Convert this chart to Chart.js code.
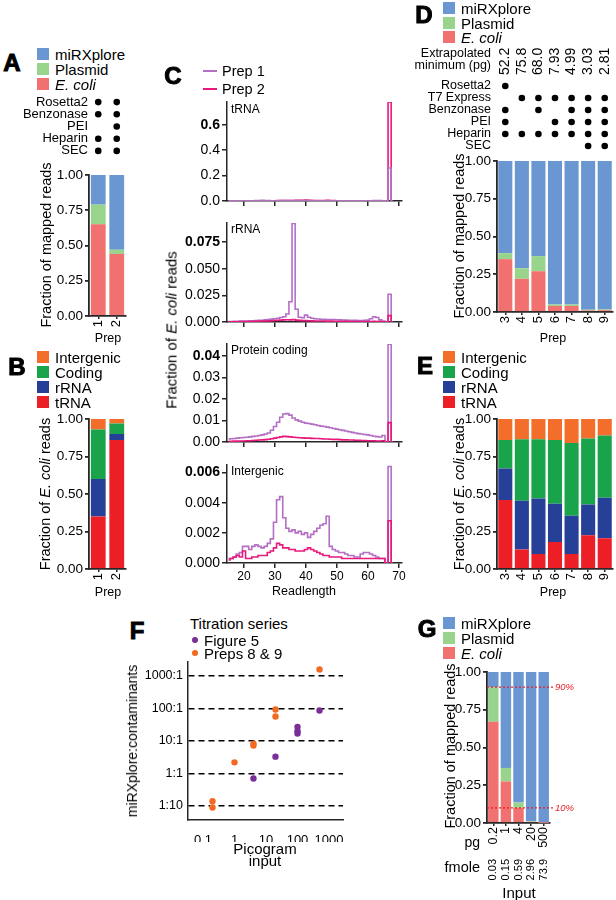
<!DOCTYPE html>
<html>
<head>
<meta charset="utf-8">
<script src="https://cdn.jsdelivr.net/npm/chart.js@4.4.1/dist/chart.umd.min.js"></script>
<style>
body { margin: 0; background: #fff; }
#fig { position: relative; width: 616px; height: 900px; overflow: hidden; background: #fff;
       font-family: 'Liberation Sans', Arial, sans-serif; color: #000; }
#fig canvas { position: absolute; }
.t { position: absolute; white-space: nowrap; line-height: 1; z-index: 2; }
.sq { position: absolute; width: 12px; height: 12px; z-index: 2; }
.ln { position: absolute; width: 14px; height: 2.5px; z-index: 2; }
.dot { position: absolute; width: 6px; height: 6px; border-radius: 50%; z-index: 2; }
.letter { font-weight: 900; -webkit-text-stroke: 1px #000; }
</style>
</head>
<body>
<div id="fig"></div>
<script>
// ---- data ----
var mappedSeries = ['E. coli', 'Plasmid', 'miRXplore'];
var mappedColors = ['#f0716f', '#99d48d', '#6a96d2'];
var ecoliSeries = ['tRNA', 'rRNA', 'Coding', 'Intergenic'];
var ecoliColors = ['#ec1e26', '#264098', '#19a34b', '#f36e2a'];
var fracTicks = [0, 0.25, 0.5, 0.75, 1];

// A
var prepsA = ['1', '2'];
var ecoliA = [0.65, 0.44];
var plasmidA = [0.14, 0.03];
var mirxA = [0.21, 0.53];
var conditionsA = ['Rosetta2', 'Benzonase', 'PEI', 'Heparin', 'SEC'];
var usedA = [[1, 1], [1, 1], [0, 1], [1, 1], [1, 1]];

// B
var trnaB = [0.35, 0.86];
var rrnaB = [0.25, 0.04];
var codingB = [0.33, 0.07];
var intergenicB = [0.07, 0.03];

// C
var readLengths = [15, 16, 17, 18, 19, 20, 21, 22, 23, 24, 25, 26, 27, 28, 29, 30, 31, 32, 33, 34,
    35, 36, 37, 38, 39, 40, 41, 42, 43, 44, 45, 46, 47, 48, 49, 50, 51, 52, 53, 54,
    55, 56, 57, 58, 59, 60, 61, 62, 63, 64, 65, 66, 67, 68];
var readTicks = [20, 30, 40, 50, 60, 70];
var trna1 = [0.001, 0.001, 0.001, 0.001, 0.001, 0.002, 0.002, 0.002, 0.002, 0.003,
    0.004, 0.005, 0.004, 0.003, 0.002, 0.002, 0.002, 0.003, 0.003, 0.003,
    0.003, 0.003, 0.003, 0.004, 0.004, 0.004, 0.003, 0.003, 0.002, 0.002,
    0.002, 0.002, 0.002, 0.002, 0.002, 0.001, 0.001, 0.001, 0.001, 0.001,
    0.001, 0.001, 0.001, 0.001, 0.001, 0.001, 0.002, 0.003, 0.004, 0.003,
    0.001, 0, 0.26, 0];
var trna2 = [0.001, 0.001, 0.001, 0.001, 0.001, 0.001, 0.001, 0.001, 0.001, 0.002,
    0.002, 0.002, 0.002, 0.002, 0.002, 0.002, 0.003, 0.003, 0.003, 0.003,
    0.003, 0.004, 0.005, 0.006, 0.006, 0.007, 0.006, 0.004, 0.003, 0.003,
    0.004, 0.004, 0.005, 0.004, 0.003, 0.002, 0.002, 0.001, 0.001, 0.001,
    0.001, 0.001, 0.001, 0.001, 0.001, 0.001, 0.001, 0.001, 0.001, 0.001,
    0.001, 0, 0.78, 0];
var rrna1 = [0.0005, 0.0005, 0.0006, 0.0007, 0.0008, 0.0009, 0.001, 0.0011, 0.0012, 0.0013,
    0.0015, 0.0017, 0.002, 0.0023, 0.0027, 0.003, 0.0035, 0.0042, 0.005, 0.0075,
    0.019, 0.0925, 0.012, 0.0045, 0.004, 0.0065, 0.0045, 0.0035, 0.003, 0.0028,
    0.0026, 0.0025, 0.0024, 0.0023, 0.0022, 0.0021, 0.002, 0.0019, 0.0018, 0.0017,
    0.0016, 0.0015, 0.0014, 0.0014, 0.0015, 0.0018, 0.003, 0.005, 0.0042, 0.002,
    0.001, 0, 0.026, 0];
var rrna2 = [0.0002, 0.0002, 0.0003, 0.0003, 0.0004, 0.0004, 0.0005, 0.0005, 0.0006, 0.0007,
    0.0008, 0.0009, 0.001, 0.0011, 0.0012, 0.0014, 0.0016, 0.0018, 0.002, 0.0021,
    0.002, 0.0022, 0.0018, 0.0015, 0.0013, 0.0013, 0.0012, 0.0011, 0.001, 0.001,
    0.0009, 0.0009, 0.0008, 0.0008, 0.0007, 0.0007, 0.0006, 0.0006, 0.0006, 0.0005,
    0.0005, 0.0005, 0.0004, 0.0004, 0.0004, 0.0004, 0.0005, 0.0006, 0.0005, 0.0004,
    0.0003, 0, 0.006, 0];
var coding1 = [0.0014, 0.0015, 0.0016, 0.0018, 0.002, 0.0021, 0.0022, 0.0024, 0.0026, 0.0028,
    0.003, 0.0033, 0.0037, 0.0042, 0.0055, 0.0072, 0.0092, 0.0115, 0.013, 0.0132,
    0.0125, 0.0112, 0.0103, 0.0097, 0.0092, 0.0088, 0.0086, 0.0083, 0.008, 0.0077,
    0.0074, 0.0072, 0.0069, 0.0066, 0.0063, 0.006, 0.0057, 0.0054, 0.0051, 0.0048,
    0.0045, 0.0042, 0.0039, 0.0037, 0.0035, 0.0033, 0.003, 0.0027, 0.0025, 0.0023,
    0.003, 0, 0.0455, 0];
var coding2 = [0.0003, 0.0003, 0.0004, 0.0004, 0.0005, 0.0005, 0.0006, 0.0006, 0.0007, 0.0008,
    0.0009, 0.001, 0.0011, 0.0013, 0.0015, 0.0018, 0.0021, 0.0024, 0.0026, 0.0025,
    0.0024, 0.0022, 0.0021, 0.002, 0.0019, 0.0018, 0.0018, 0.0017, 0.0016, 0.0016,
    0.0015, 0.0014, 0.0014, 0.0013, 0.0012, 0.0012, 0.0011, 0.001, 0.001, 0.0009,
    0.0009, 0.0008, 0.0008, 0.0007, 0.0007, 0.0006, 0.0006, 0.0006, 0.0005, 0.0005,
    0.0006, 0, 0.009, 0];
var inter1 = [0.0003, 0.0003, 0.0004, 0.0006, 0.0007, 0.0011, 0.0011, 0.0009, 0.0011, 0.0012,
    0.0011, 0.001, 0.0011, 0.0013, 0.0016, 0.0027, 0.0042, 0.0044, 0.003, 0.0023,
    0.0021, 0.0022, 0.002, 0.0021, 0.0019, 0.002, 0.0017, 0.0019, 0.0021, 0.0023,
    0.0025, 0.0026, 0.0031, 0.0011, 0.0009, 0.0008, 0.0007, 0.0007, 0.0006, 0.0005,
    0.0005, 0.0004, 0.0004, 0.0006, 0.0007, 0.0007, 0.0006, 0.0005, 0.0004, 0.0003,
    0.0003, 0, 0.0064, 0];
var inter2 = [0.0002, 0.0003, 0.0004, 0.0005, 0.0004, 0.0008, 0.0003, 0.0003, 0.0004, 0.0004,
    0.0005, 0.0005, 0.0005, 0.0007, 0.0008, 0.001, 0.0013, 0.0012, 0.001, 0.001,
    0.0009, 0.0009, 0.0008, 0.0008, 0.0008, 0.0009, 0.001, 0.0009, 0.0008, 0.0007,
    0.0006, 0.0005, 0.0005, 0.0004, 0.0004, 0.0004, 0.0004, 0.0003, 0.0003, 0.0003,
    0.0003, 0.0003, 0.0003, 0.0003, 0.0003, 0.0003, 0.0003, 0.0003, 0.0003, 0.0003,
    0.0003, 0, 0.0028, 0];
var trnaTicks = [0, 0.2, 0.4, 0.6];
var rrnaTicks = [0, 0.025, 0.05, 0.075];
var codingTicks = [0, 0.01, 0.02, 0.03, 0.04];
var interTicks = [0, 0.002, 0.004, 0.006];

// D
var prepsD = ['3', '4', '5', '6', '7', '8', '9'];
var extrapMinD = ['52.2', '75.8', '68.0', '7.93', '4.99', '3.03', '2.81'];
var conditionsD = ['Rosetta2', 'T7 Express', 'Benzonase', 'PEI', 'Heparin', 'SEC'];
var usedD = [[1, 0, 0, 0, 0, 0, 0], [0, 1, 1, 1, 1, 1, 1], [1, 0, 1, 0, 1, 1, 1],
    [1, 0, 0, 1, 1, 1, 1], [1, 1, 1, 1, 1, 1, 1], [0, 0, 0, 0, 0, 1, 1]];
var ecoliD = [0.35, 0.22, 0.27, 0.04, 0.04, 0.01, 0.012];
var plasmidD = [0.04, 0.07, 0.10, 0.01, 0.01, 0.005, 0.005];
var mirxD = [0.61, 0.71, 0.63, 0.95, 0.95, 0.985, 0.983];

// E
var trnaE = [0.46, 0.13, 0.10, 0.18, 0.10, 0.225, 0.205];
var rrnaE = [0.21, 0.325, 0.37, 0.255, 0.255, 0.205, 0.27];
var codingE = [0.19, 0.41, 0.395, 0.425, 0.485, 0.44, 0.415];
var intergenicE = [0.14, 0.135, 0.135, 0.14, 0.16, 0.13, 0.11];

// F
var fig5Pg = [4, 20, 100, 100, 100, 500];
var fig5Ratio = [0.7, 3.3, 27, 20, 17, 87];
var preps89Pg = [0.2, 0.2, 1, 4, 4, 20, 20, 500];
var preps89Ratio = [0.14, 0.09, 2.2, 8.3, 7.3, 93, 57, 1600];
var pgTicks = [0.1, 1, 10, 100, 1000];
var ratioTicks = [0.1, 1, 10, 100, 1000];
var ratioLabels = ['1:10', '1:1', '10:1', '100:1', '1000:1'];

// G
var inputPg = ['0.2', '1', '4', '20', '500'];
var inputFmole = ['0.03', '0.15', '0.59', '2.96', '73.9'];
var ecoliG = [0.67, 0.275, 0.10, 0.008, 0.001];
var plasmidG = [0.23, 0.09, 0.035, 0.003, 0.001];
var mirxG = [0.10, 0.635, 0.865, 0.989, 0.998];
var thresholdsG = [0.9, 0.1];
var thresholdLabelsG = ['90%', '10%'];

// ---- helpers ----
var AXIS = '#262626';
var PREP1 = '#b46fc4';
var PREP2 = '#e8197c';
var fig = document.getElementById('fig');

Chart.defaults.font.family = "'Liberation Sans', Arial, sans-serif";
Chart.defaults.color = '#000';

function fitSize(n) {
    return function (s) {
        if (s.isHorizontal()) {
            s.height = n;
        } else {
            s.width = n;
        }
        s.paddingTop = 0; s.paddingBottom = 0; s.paddingLeft = 0; s.paddingRight = 0;
    };
}

function setTicks(values) {
    return function (s) {
        s.ticks = values.map(function (v) { return {value: v}; });
    };
}

// plot = [x0, y0, x1, y1] of the chart area on the page, m = [top, right, bottom, left] room around it.
// Visible axes get the whole room on their side unless sizes says otherwise.
function addChart(plot, m, config, sizes) {
    sizes = sizes || {};
    var room = {top: m[0], right: m[1], bottom: m[2], left: m[3]};
    var used = {top: 0, right: 0, bottom: 0, left: 0};
    var scales = config.options.scales || {};
    Object.keys(scales).forEach(function (id) {
        var s = scales[id];
        if (s.display === false) {
            return;
        }
        var pos = s.position || (id.charAt(0) === 'x' ? 'bottom' : 'left');
        var size = sizes[id] !== undefined ? sizes[id] : room[pos];
        used[pos] += size;
        s.afterFit = fitSize(size);
    });

    var c = document.createElement('canvas');
    c.width = plot[2] - plot[0] + m[1] + m[3];
    c.height = plot[3] - plot[1] + m[0] + m[2];
    c.style.left = (plot[0] - m[3]) + 'px';
    c.style.top = (plot[1] - m[0]) + 'px';
    fig.appendChild(c);
    var o = config.options;
    o.responsive = false;
    o.animation = false;
    o.events = [];
    o.devicePixelRatio = 1;
    o.layout = {autoPadding: false, padding: {
        top: room.top - used.top, right: room.right - used.right,
        bottom: room.bottom - used.bottom, left: room.left - used.left}};
    o.plugins = {legend: {display: false}, tooltip: {enabled: false}};
    return new Chart(c, config);
}

function fracAxis() {
    return {
        stacked: true, min: 0, max: 1,
        afterBuildTicks: setTicks(fracTicks),
        ticks: {font: {size: 13.5}, padding: 2, callback: function (v) { return v.toFixed(2); }},
        grid: {drawOnChartArea: false, tickLength: 4, color: AXIS, lineWidth: 1.8},
        border: {color: AXIS, width: 1.8}
    };
}

function catAxis(size) {
    return {
        stacked: true,
        ticks: {font: {size: size}, minRotation: 90, maxRotation: 90, autoSkip: false, padding: 1},
        grid: {drawOnChartArea: false, offset: false, tickLength: 3, color: AXIS, lineWidth: 1.5},
        border: {color: AXIS, width: 1.8}
    };
}

function stackedBars(labels, series, colors, values, pct) {
    return {
        type: 'bar',
        data: {
            labels: labels,
            datasets: series.map(function (name, i) {
                return {label: name, data: values[i], backgroundColor: colors[i], borderWidth: 0,
                    barPercentage: pct, categoryPercentage: 1};
            })
        },
        options: {scales: {x: catAxis(13), y: fracAxis()}}
    };
}

function matrix(cols, rows, used, pad, size) {
    var pts = [];
    rows.forEach(function (r, i) {
        used[i].forEach(function (u, j) {
            if (u) {
                pts.push({x: cols[j], y: r});
            }
        });
    });
    return {
        type: 'scatter',
        data: {datasets: [{data: pts, pointRadius: 3.3, backgroundColor: '#000', borderWidth: 0}]},
        options: {
            scales: {
                x: {type: 'category', labels: cols, offset: true, display: false},
                y: {type: 'category', labels: rows, offset: true,
                    grid: {display: false, drawTicks: false}, border: {display: false},
                    ticks: {padding: pad, font: {size: size}, autoSkip: false}}
            }
        }
    };
}

function readChart(plot, mB, yMax, yTicks, decimals, s1, s2, showX) {
    var top = yTicks[yTicks.length - 1];
    function pts(s) {
        return readLengths.map(function (r, i) { return {x: r, y: s[i]}; });
    }
    // the prep with the shorter full-length spike is drawn on top, as in the original
    var low1 = Math.max.apply(null, s1) < Math.max.apply(null, s2);
    return addChart(plot, [8, 6, mB, 62], {
        type: 'line',
        data: {
            datasets: [
                {data: pts(s1), borderColor: PREP1, borderWidth: 1.6, pointRadius: 0, stepped: 'middle',
                    fill: false, order: low1 ? 0 : 1},
                {data: pts(s2), borderColor: PREP2, borderWidth: 1.6, pointRadius: 0, stepped: 'middle',
                    fill: false, order: low1 ? 1 : 0}
            ]
        },
        options: {
            scales: {
                x: {type: 'linear', min: 14.5, max: 71, afterBuildTicks: setTicks(readTicks),
                    ticks: {display: showX, font: {size: 12}, padding: 1},
                    grid: {drawOnChartArea: false, tickLength: 5, color: AXIS, lineWidth: 1.5},
                    border: {color: AXIS, width: 1.5}},
                y: {type: 'linear', min: 0, max: yMax, afterBuildTicks: setTicks(yTicks),
                    ticks: {padding: 2,
                        font: function (ctx) {
                            return {size: 14, weight: ctx.tick && ctx.tick.value === top ? 'bold' : 'normal'};
                        },
                        callback: function (v) { return v.toFixed(decimals); }},
                    grid: {drawOnChartArea: false, tickLength: 5, color: AXIS, lineWidth: 1.5},
                    border: {color: AXIS, width: 1.5}}
            }
        }
    });
}

function put(html, x, y, size, align, cls) {
    var d = document.createElement('div');
    d.className = 't' + (cls ? ' ' + cls : '');
    d.innerHTML = html;
    d.style.left = x + 'px';
    d.style.top = y + 'px';
    d.style.fontSize = size + 'px';
    var tx = align === 'right' ? '-100%' : (align === 'center' ? '-50%' : '0');
    d.style.transform = 'translate(' + tx + ', -50%)';
    fig.appendChild(d);
    return d;
}

function putV(html, x, y, size) {
    var d = put(html, x, y, size, 'center');
    d.style.transform = 'translate(-50%, -50%) rotate(-90deg)';
}

function swatch(cls, color, x, y) {
    var d = document.createElement('div');
    d.className = cls;
    d.style.background = color;
    d.style.left = x + 'px';
    fig.appendChild(d);
    d.style.top = (y - d.offsetHeight / 2) + 'px';
}

function legend(names, colors, x, ys) {
    names.forEach(function (n, i) {
        swatch('sq', colors[i], x, ys[i]);
        put(n === 'E. coli' ? '<i>E. coli</i>' : n, x + 18, ys[i], 15);
    });
}

var thresholdPlugin = {
    id: 'thresholds',
    afterDatasetsDraw: function (chart) {
        var ctx = chart.ctx, y = chart.scales.y, a = chart.chartArea;
        ctx.save();
        ctx.strokeStyle = '#e8202a';
        ctx.fillStyle = '#e8202a';
        ctx.lineWidth = 1.2;
        ctx.setLineDash([2, 2]);
        ctx.font = "italic 9.5px 'Liberation Sans', Arial, sans-serif";
        ctx.textBaseline = 'middle';
        thresholdsG.forEach(function (v, i) {
            var py = y.getPixelForValue(v);
            ctx.beginPath();
            ctx.moveTo(a.left, py);
            ctx.lineTo(a.right + 3, py);
            ctx.stroke();
            ctx.fillText(thresholdLabelsG[i], a.right + 5, py);
        });
        ctx.restore();
    }
};

// ---- A ----
addChart([89, 175, 126, 316], [10, 4, 20, 50],
    stackedBars(prepsA, mappedSeries, mappedColors, [ecoliA, plasmidA, mirxA], 0.8));
addChart([89, 96, 126, 157], [4, 4, 4, 75], matrix(prepsA, conditionsA, usedA, 1, 13));
put('A', 12, 63, 24, 'center', 'letter');
legend(['miRXplore', 'Plasmid', 'E. coli'], [mappedColors[2], mappedColors[1], mappedColors[0]], 37, [54, 69, 84]);
putV('Fraction of mapped reads', 46, 245, 14.5);
put('Prep', 108, 338, 12.5, 'center');

// ---- B ----
addChart([89, 419, 126, 569], [10, 4, 20, 50],
    stackedBars(prepsA, ecoliSeries, ecoliColors, [trnaB, rrnaB, codingB, intergenicB], 0.8));
put('B', 17, 367, 24, 'center', 'letter');
legend(['Intergenic', 'Coding', 'rRNA', 'tRNA'], [ecoliColors[3], ecoliColors[2], ecoliColors[1], ecoliColors[0]], 37, [357, 372, 387, 402]);
putV('Fraction of <i>E. coli</i> reads', 45, 494, 14.5);
put('Prep', 108, 592, 12.5, 'center');

// ---- C ----
readChart([227, 102, 402, 201], 8, 0.78, trnaTicks, 1, trna1, trna2, false);
readChart([227, 223, 402, 322], 8, 0.093, rrnaTicks, 3, rrna1, rrna2, false);
readChart([227, 344, 402, 442], 8, 0.0456, codingTicks, 2, coding1, coding2, false);
readChart([227, 465, 402, 563], 30, 0.0065, interTicks, 3, inter1, inter2, true);
put('C', 173, 76, 24, 'center', 'letter');
swatch('ln', PREP1, 203, 71);
swatch('ln', PREP2, 203, 89);
put('Prep 1', 222, 71, 14.5);
put('Prep 2', 222, 89, 14.5);
put('tRNA', 231, 109, 12);
put('rRNA', 231, 229, 12);
put('Protein coding', 231, 350, 12);
put('Intergenic', 231, 471, 12);
putV('Fraction of <i>E. coli</i> reads', 171, 330, 15);
put('Readlength', 304, 591, 12.5, 'center');

// ---- D ----
addChart([497, 161, 613, 312], [10, 3, 20, 50],
    stackedBars(prepsD, mappedSeries, mappedColors, [ecoliD, plasmidD, mirxD], 0.85));
var dm = matrix(prepsD, conditionsD, usedD, 6, 12.5);
// top axis labels come out one line-height to the left when rotated, labelOffset puts them back
dm.options.scales.x2 = {type: 'category', labels: extrapMinD, position: 'top', offset: true,
    grid: {display: false, drawTicks: false}, border: {display: false},
    ticks: {minRotation: 90, maxRotation: 90, autoSkip: false, padding: 5, labelOffset: 16.8, font: {size: 14}}};
addChart([497, 80, 613, 152], [40, 3, 4, 120], dm);
put('D', 424, 15, 24, 'center', 'letter');
legend(['miRXplore', 'Plasmid', 'E. coli'], [mappedColors[2], mappedColors[1], mappedColors[0]], 443, [8, 23, 37]);
put('Extrapolated', 491, 53, 12.5, 'right');
put('minimum (pg)', 491, 65, 12.5, 'right');
putV('Fraction of mapped reads', 459, 236, 14.5);
put('Prep', 553, 338, 12.5, 'center');

// ---- E ----
addChart([497, 419, 613, 569], [10, 3, 20, 50],
    stackedBars(prepsD, ecoliSeries, ecoliColors, [trnaE, rrnaE, codingE, intergenicE], 0.85));
put('E', 425, 366, 24, 'center', 'letter');
legend(['Intergenic', 'Coding', 'rRNA', 'tRNA'], [ecoliColors[3], ecoliColors[2], ecoliColors[1], ecoliColors[0]], 443, [357, 372, 387, 402]);
putV('Fraction of <i>E. coli</i> reads', 459, 494, 14.5);
put('Prep', 553, 592, 12.5, 'center');

// ---- F ----
addChart([188, 662, 343, 820], [8, 6, 22, 60], {
    type: 'scatter',
    data: {
        datasets: [
            {data: fig5Pg.map(function (x, i) { return {x: x, y: fig5Ratio[i]}; }),
                backgroundColor: '#7a2e98', pointRadius: 3.2, borderWidth: 0},
            {data: preps89Pg.map(function (x, i) { return {x: x, y: preps89Ratio[i]}; }),
                backgroundColor: '#f26a22', pointRadius: 3.2, borderWidth: 0}
        ]
    },
    options: {
        scales: {
            x: {type: 'logarithmic', min: 0.0334, max: 2780, afterBuildTicks: setTicks(pgTicks),
                ticks: {font: {size: 13}, padding: 5, callback: function (v) { return String(v); }},
                grid: {display: false},
                border: {color: AXIS, width: 1.5}},
            y: {type: 'logarithmic', min: 0.037, max: 2700, afterBuildTicks: setTicks(ratioTicks),
                ticks: {font: {size: 12.5}, padding: 5,
                    callback: function (v) { return ratioLabels[ratioTicks.indexOf(v)]; }},
                grid: {drawTicks: false, color: '#000', lineWidth: 1.5},
                border: {color: AXIS, width: 1.5, dash: [6, 4]}}
        }
    }
});
put('F', 137, 631, 24, 'center', 'letter');
put('Titration series', 190, 623, 15);
swatch('dot', '#7a2e98', 192, 640);
swatch('dot', '#f26a22', 192, 653);
put('Figure 5', 204, 640, 15);
put('Preps 8 &amp; 9', 204, 653, 15);
put('Picogram', 265, 848, 15, 'center');
put('input', 265, 860, 15, 'center');
putV('miRXplore:contaminants', 132, 741, 14);

// ---- G ----
var gCfg = stackedBars(inputPg, mappedSeries, mappedColors, [ecoliG, plasmidG, mirxG], 0.83);
gCfg.options.scales.x.ticks.font = {size: 12.5};
gCfg.options.scales.x2 = {type: 'category', labels: inputFmole, position: 'bottom', weight: 1, offset: true,
    grid: {display: false, drawTicks: false}, border: {display: false},
    ticks: {minRotation: 90, maxRotation: 90, autoSkip: false, padding: 1, font: {size: 11}}};
gCfg.plugins = [thresholdPlugin];
addChart([487, 672, 550, 823], [10, 26, 72, 45], gCfg, {x: 35, x2: 37});
put('G', 427, 629, 24, 'center', 'letter');
legend(['miRXplore', 'Plasmid', 'E. coli'], [mappedColors[2], mappedColors[1], mappedColors[0]], 443, [623, 638, 653]);
putV('Fraction of mapped reads', 450, 746, 14.5);
put('pg', 480, 842, 14, 'right');
put('fmole', 480, 867, 14.5, 'right');
put('Input', 519, 892, 15, 'center');
</script>
</body>
</html>
